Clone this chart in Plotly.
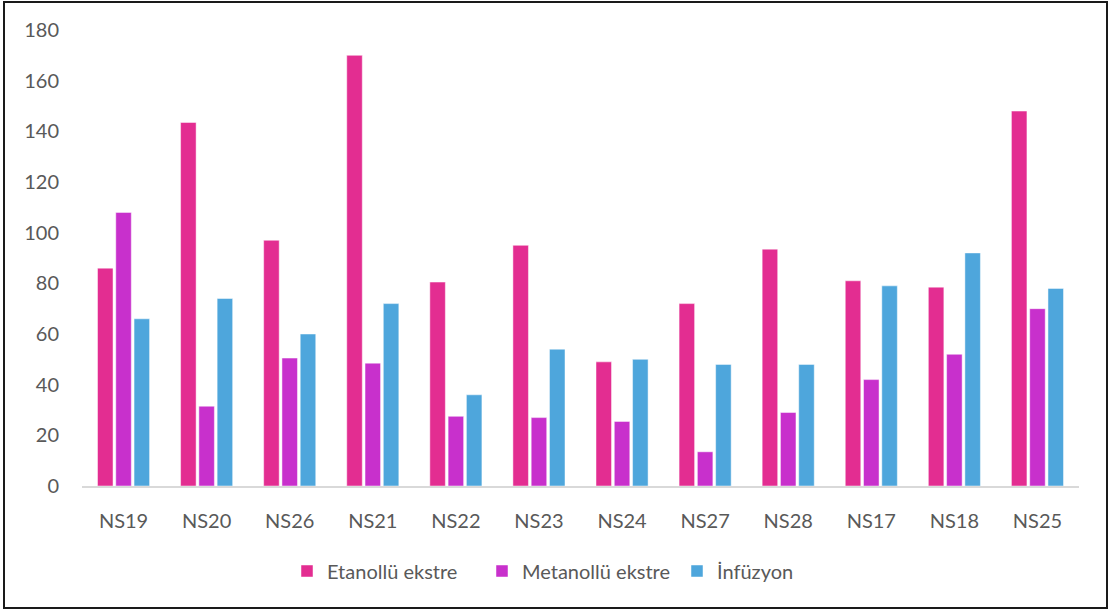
import plotly.graph_objects as go

# Samples and measured values per extraction type
samples = ["NS19", "NS20", "NS26", "NS21", "NS22", "NS23",
           "NS24", "NS27", "NS28", "NS17", "NS18", "NS25"]
etanollu = [86, 143.5, 97, 170, 80.5, 95, 49, 72, 93.5, 81, 78.5, 148]
metanollu = [108, 31.5, 50.5, 48.5, 27.5, 27, 25.5, 13.5, 29, 42, 52, 70]
infuzyon = [66, 74, 60, 72, 36, 54, 50, 48, 48, 79, 92, 78]
series_names = ["Etanollü ekstre", "Metanollü ekstre", "İnfüzyon"]
y_ticks = [0, 20, 40, 60, 80, 100, 120, 140, 160, 180]

colors = ["#E32D91", "#C830CC", "#4EA6DC"]
font_family = "Lato, 'Open Sans', sans-serif"
text_color = "#595959"

fig = go.Figure()
for name, vals, col in zip(series_names, [etanollu, metanollu, infuzyon], colors):
    fig.add_trace(go.Bar(
        x=samples, y=vals, name=name,
        marker=dict(color=col, line=dict(color="rgba(255,255,255,0.6)", width=0.8)),
        hoverinfo="x+y+name",
    ))

# plot area: x 82..1079 px, y 30..486 px
L, R, T, B = 82, 31, 30, 126
W, H = 1110, 612
pw, ph = W - L - R, H - T - B

def px_x(x):
    return (x - L) / pw

def px_y(y):
    return (H - B - y) / ph

fig.update_layout(
    width=W, height=H,
    margin=dict(l=L, r=R, t=T, b=B),
    paper_bgcolor="white", plot_bgcolor="white",
    barmode="group", bargap=0.34, bargroupgap=0.15,
    font=dict(family=font_family, size=20, color=text_color),
    showlegend=True,
    legend=dict(
        orientation="h", x=px_x(287), xanchor="left",
        y=px_y(571), yanchor="middle",
        entrywidth=150, entrywidthmode="pixels",
        font=dict(family=font_family, size=20, color=text_color),
        bgcolor="rgba(0,0,0,0)",
    ),
    xaxis=dict(
        showgrid=False, zeroline=False, showline=True,
        linecolor="#D9D9D9", linewidth=2, ticks="",
        tickfont=dict(family=font_family, size=20, color=text_color),
        ticklabelstandoff=16,
    ),
    yaxis=dict(
        range=[0, 180], tickvals=y_ticks, showgrid=False,
        zeroline=False, showline=False, ticks="",
        tickfont=dict(family=font_family, size=20, color=text_color),
        ticklabelstandoff=22,
    ),
    shapes=[dict(
        type="rect", xref="paper", yref="paper",
        x0=px_x(4), x1=px_x(1107), y0=px_y(608), y1=px_y(2),
        line=dict(color="#1a1a1a", width=2), fillcolor="rgba(0,0,0,0)",
        layer="below",
    )],
)

fig.write_html("out.html")
